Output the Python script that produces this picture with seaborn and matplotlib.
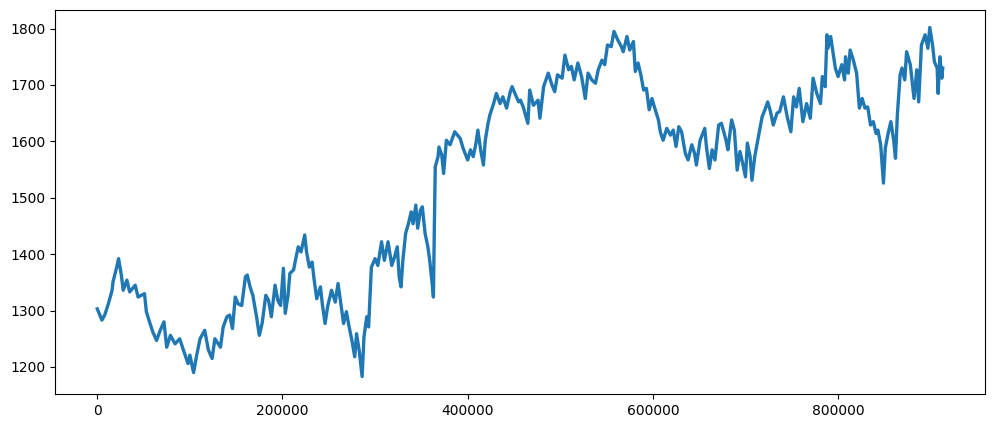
import matplotlib
matplotlib.use("Agg")
import matplotlib.pyplot as plt
import seaborn as sns

# sample index (x) and value (y)
idx = [
    0, 5000, 8000, 12000, 16000, 17000, 21000, 23000, 26000, 28000,
    32000, 35000, 41000, 44000, 51000, 53000, 57000, 60000, 64000, 68000,
    72000, 75000, 79000, 84000, 89000, 93000, 98000, 100000, 104000, 107000,
    111000, 116000, 120000, 124000, 127000, 133000, 136000, 140000, 143000, 146000,
    149000, 152000,
    156000, 160000, 162000, 165000, 168000, 172000, 175000, 178000, 182000, 185000,
    188000, 192000, 195000, 198000, 201000, 203000, 206000, 208000, 212000, 214000,
    217000, 220000, 224000, 226000, 229000, 232000, 234000, 237000, 241000, 243000,
    246000, 249000, 253000, 257000, 260000, 263000, 266000, 269000, 272000, 275000,
    278000, 280000, 283000, 286000, 288000, 291000, 293000, 295000, 296000, 300000,
    303000,
    307000, 310000, 314000, 318000, 321000, 324000, 326000, 328000, 330000, 333000,
    336000, 339000, 341000, 344000, 346000, 349000, 351000, 354000, 357000, 359000,
    362000, 363000, 364000, 365000, 368000, 369000, 372000, 374000, 377000, 381000,
    386000, 392000, 395000, 400000, 403000, 406000, 409000, 411000, 414000, 417000,
    419000, 422000, 424000, 428000, 431000, 435000, 438000, 442000, 446000, 448000,
    451000, 455000,
    457000, 460000, 465000, 467000, 471000, 476000, 478000, 482000, 487000, 491000,
    494000, 497000, 502000, 505000, 509000, 512000, 515000, 519000, 523000, 527000,
    530000, 534000, 538000, 541000, 545000, 548000, 551000, 555000, 558000, 562000,
    566000, 568000, 572000, 575000, 579000, 581000, 584000, 587000, 590000, 593000,
    596000, 599000, 602000, 606000, 608000,
    611000, 615000, 619000, 622000, 625000, 628000, 631000, 635000, 638000, 642000,
    645000, 647000, 651000, 656000, 658000, 661000, 664000, 667000, 671000, 674000,
    679000, 681000, 685000, 688000, 691000, 694000, 697000, 700000, 702000, 705000,
    707000, 710000, 714000, 718000, 721000, 724000, 727000, 730000, 734000, 737000,
    741000, 745000, 749000, 752000, 755000, 758000,
    762000, 766000, 770000, 773000, 777000, 781000, 783000, 786000, 788000, 789000,
    792000, 795000, 797000, 800000, 804000, 807000, 808000, 811000, 813000, 816000,
    820000, 823000, 826000, 829000, 832000, 835000, 838000, 841000, 843000, 846000,
    849000, 851000, 854000, 857000, 860000, 862000, 864000, 867000, 869000, 872000,
    874000, 878000, 880000, 882000, 885000, 887000, 890000, 894000, 897000, 899000,
    902000, 904000, 907000, 908000, 910000, 912000, 913000,
]

price = [
    1303, 1283, 1292, 1312, 1336, 1351, 1377, 1392, 1363, 1336,
    1354, 1333, 1345, 1324, 1330, 1298, 1277, 1262, 1247, 1265,
    1280, 1235, 1256, 1241, 1250, 1230, 1206, 1221, 1190, 1218,
    1250, 1265, 1230, 1215, 1250, 1235, 1271, 1289, 1292, 1268,
    1324, 1312,
    1309, 1360, 1363, 1342, 1327, 1289, 1256, 1277, 1327, 1318,
    1289, 1345, 1318, 1309, 1375, 1295, 1327, 1366, 1372, 1389,
    1413, 1404, 1434, 1404, 1377, 1386, 1357, 1321, 1342, 1312,
    1277, 1309, 1336, 1315, 1348, 1312, 1277, 1298, 1271, 1247,
    1218, 1259, 1227, 1183, 1253, 1289, 1271, 1342, 1377, 1392,
    1380,
    1422, 1389, 1422, 1380, 1395, 1413, 1360, 1342, 1389, 1437,
    1454, 1475, 1454, 1487, 1446, 1478, 1484, 1437, 1413, 1389,
    1342, 1324, 1448, 1555, 1573, 1590, 1576, 1543, 1602, 1594,
    1617, 1605, 1588, 1567, 1585, 1573, 1597, 1620, 1585, 1558,
    1602, 1632, 1647, 1667, 1685, 1667, 1679, 1659, 1688, 1697,
    1685, 1670,
    1673, 1661, 1632, 1691, 1664, 1673, 1641, 1697, 1721, 1700,
    1688, 1718, 1712, 1753, 1727, 1733, 1709, 1739, 1715, 1676,
    1721, 1709, 1703, 1727, 1744, 1736, 1771, 1768, 1795, 1780,
    1768, 1759, 1786, 1762, 1777, 1724, 1739, 1718, 1691, 1694,
    1656, 1676, 1659, 1638, 1617,
    1602, 1623, 1611, 1620, 1591, 1626, 1617, 1579, 1567, 1594,
    1579, 1558, 1602, 1623, 1588, 1552, 1585, 1567, 1629, 1632,
    1602, 1585, 1638, 1620, 1549, 1582, 1561, 1537, 1597, 1573,
    1531, 1573, 1608, 1644, 1656, 1670, 1653, 1629, 1650, 1653,
    1679, 1644, 1617, 1679, 1661, 1694,
    1635, 1667, 1641, 1712, 1685, 1667, 1715, 1697, 1789, 1765,
    1786, 1753, 1730, 1715, 1736, 1709, 1750, 1721, 1762, 1747,
    1721, 1659, 1676, 1659, 1661, 1629, 1635, 1614, 1620, 1594,
    1526, 1588, 1614, 1635, 1602, 1570, 1647, 1718, 1730, 1709,
    1759, 1736, 1706, 1676, 1727, 1670, 1771, 1789, 1765, 1802,
    1771, 1741, 1730, 1685, 1750, 1712, 1730,
]

fig = plt.figure(figsize=(9.95, 4.28), dpi=100)
ax = fig.add_axes([55 / 995, 34 / 428, 930 / 995, 384 / 428])

sns.lineplot(x=idx, y=price, ax=ax, color="#1f77b4", linewidth=2.4,
             estimator=None, sort=False)

plt.savefig("out.png", dpi=100)
